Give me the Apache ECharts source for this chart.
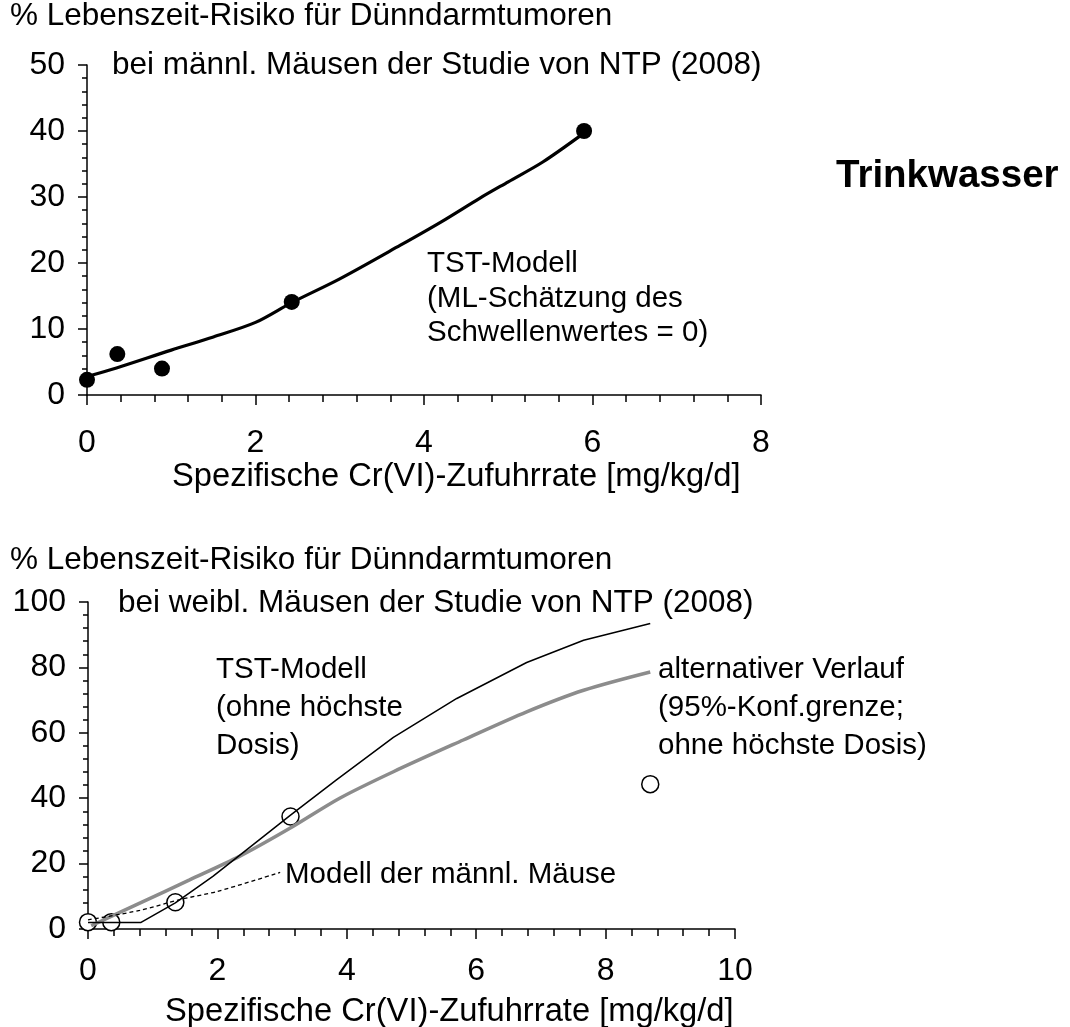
<!DOCTYPE html>
<html><head><meta charset="utf-8">
<script src="https://cdn.jsdelivr.net/npm/echarts@6/dist/echarts.min.js"></script>
<style>html,body{margin:0;padding:0;background:#fff}#c{width:1070px;height:1027px}</style>
</head><body><div id="c"></div><script>
// ---- top chart (male mice) ----
const maleObsX = [0, 0.36, 0.89, 2.43, 5.9];
const maleObsY = [2.3, 6.2, 4.0, 14.1, 40.0];
const maleFitX = [0, 0.35, 1.0, 1.5, 2.0, 2.43, 3.0, 3.72, 4.2, 4.66, 5.0, 5.41, 5.89];
const maleFitY = [2.8, 4.1, 6.8, 8.8, 11.0, 14.0, 17.6, 22.7, 26.2, 29.8, 32.3, 35.3, 39.6];
const topXTicks = [0, 2, 4, 6, 8];
const topYTicks = [0, 10, 20, 30, 40, 50];
// ---- bottom chart (female mice) ----
const femObsX = [0, 0.36, 1.35, 3.13, 8.69];
const femObsY = [2.1, 2.1, 8.2, 34.4, 44.3];
const femFitX = [0, 0.36, 0.82, 1.35, 1.93, 2.45, 3.13, 3.84, 4.72, 5.70, 6.78, 7.66, 8.69];
const femFitY = [2.0, 2.0, 2.0, 8.0, 16.1, 24.2, 34.8, 45.6, 58.6, 70.5, 81.5, 88.3, 93.4];
const altX = [0.05, 0.8, 1.57, 2.34, 3.12, 3.89, 4.72, 5.8, 6.78, 7.66, 8.69];
const altY = [1.0, 7.9, 15.0, 22.2, 30.8, 40.0, 48.1, 57.8, 66.4, 73.0, 78.6];
const maleModelX = [0, 0.8, 1.42, 2.0, 2.97];
const maleModelY = [2.8, 5.7, 9.0, 11.5, 17.3];
const botXTicks = [0, 2, 4, 6, 8, 10];
const botYTicks = [0, 20, 40, 60, 80, 100];

const FONT = '"Liberation Sans", Arial, sans-serif';
const FS = 32;    // tick labels
const TFS = 31.5; // titles
const AFS = 29.5; // annotations
const NFS = 32.7; // axis names
const zip = (xs, ys) => xs.map((x, i) => [x, ys[i]]);

function xAxis(idx, ticks, labelMargin) {
  return {
    gridIndex: idx, type: 'value',
    min: ticks[0], max: ticks[ticks.length - 1], interval: ticks[1] - ticks[0],
    axisLine: { lineStyle: { color: '#000', width: 1.5 } },
    axisTick: { length: 10, lineStyle: { color: '#000', width: 1.5 } },
    minorTick: { show: true, splitNumber: 5, length: 7, lineStyle: { color: '#000', width: 1.5 } },
    axisLabel: { color: '#000', fontSize: FS, fontFamily: FONT, margin: labelMargin, lineHeight: FS },
    splitLine: { show: false }, minorSplitLine: { show: false }
  };
}
function yAxis(idx, ticks) {
  return {
    gridIndex: idx, type: 'value',
    min: ticks[0], max: ticks[ticks.length - 1], interval: ticks[1] - ticks[0],
    axisLine: { show: true, lineStyle: { color: '#000', width: 1.5 } },
    axisTick: { show: true, length: 9, lineStyle: { color: '#000', width: 1.5 } },
    minorTick: { show: true, splitNumber: 5, length: 5, lineStyle: { color: '#000', width: 1.5 } },
    axisLabel: { color: '#000', fontSize: FS, fontFamily: FONT, margin: 22 },
    splitLine: { show: false }, minorSplitLine: { show: false }
  };
}
// text block whose first line is centred at cy
function txt(left, cy, text, size, lh, extra) {
  return { type: 'text', left: left, top: cy - lh / 2,
    style: Object.assign({ text: text, fill: '#000', font: size + 'px ' + FONT, lineHeight: lh }, extra || {}) };
}
const XNAME = 'Spezifische Cr(VI)-Zufuhrrate [mg/kg/d]';

const chart = echarts.init(document.getElementById('c'), null, { renderer: 'canvas' });
chart.setOption({
  animation: false,
  backgroundColor: '#fff',
  grid: [
    { left: 87, top: 65, width: 674, height: 330 },
    { left: 88, top: 602, width: 647, height: 327 }
  ],
  xAxis: [xAxis(0, topXTicks, 32), xAxis(1, botXTicks, 26)],
  yAxis: [yAxis(0, topYTicks), yAxis(1, botYTicks)],
  series: [
    { type: 'line', xAxisIndex: 0, yAxisIndex: 0, data: zip(maleFitX, maleFitY), smooth: 0.3,
      showSymbol: false, lineStyle: { color: '#000', width: 3.2 } },
    { type: 'scatter', xAxisIndex: 0, yAxisIndex: 0, data: zip(maleObsX, maleObsY),
      symbolSize: 16, itemStyle: { color: '#000', opacity: 1 } },
    { type: 'line', xAxisIndex: 1, yAxisIndex: 1, data: zip(altX, altY), smooth: 0.3,
      showSymbol: false, lineStyle: { color: '#8c8c8c', width: 3.5 } },
    { type: 'line', xAxisIndex: 1, yAxisIndex: 1, data: zip(maleModelX, maleModelY), smooth: 0.3,
      showSymbol: false, lineStyle: { color: '#000', width: 1.3, type: [4, 3] } },
    { type: 'line', xAxisIndex: 1, yAxisIndex: 1, data: zip(femFitX, femFitY), smooth: false,
      showSymbol: false, lineStyle: { color: '#000', width: 1.5 } },
    { type: 'scatter', xAxisIndex: 1, yAxisIndex: 1, data: zip(femObsX, femObsY),
      symbolSize: 17, itemStyle: { color: '#fff', borderColor: '#000', borderWidth: 1.5, opacity: 1 } }
  ],
  graphic: [
    txt(10, 16, '% Lebenszeit-Risiko für Dünndarmtumoren', TFS, 36),
    txt(112, 65.5, 'bei männl. Mäusen der Studie von NTP (2008)', TFS, 36),
    txt(836, 176, 'Trinkwasser', 38.5, 42, { font: 'bold 38.5px ' + FONT }),
    txt(427, 264, 'TST-Modell\n(ML-Schätzung des\nSchwellenwertes = 0)', AFS, 34.5),
    txt(172, 476.5, XNAME, NFS, 36),
    txt(10, 560, '% Lebenszeit-Risiko für Dünndarmtumoren', TFS, 36),
    txt(118, 603.5, 'bei weibl. Mäusen der Studie von NTP (2008)', TFS, 36),
    txt(216, 670, 'TST-Modell\n(ohne höchste\nDosis)', AFS, 38),
    txt(658, 670, 'alternativer Verlauf\n(95%-Konf.grenze;\nohne höchste Dosis)', AFS, 38),
    txt(285, 875, 'Modell der männl. Mäuse', AFS, 36),
    txt(165, 1012, XNAME, NFS, 36)
  ]
});
</script></body></html>
